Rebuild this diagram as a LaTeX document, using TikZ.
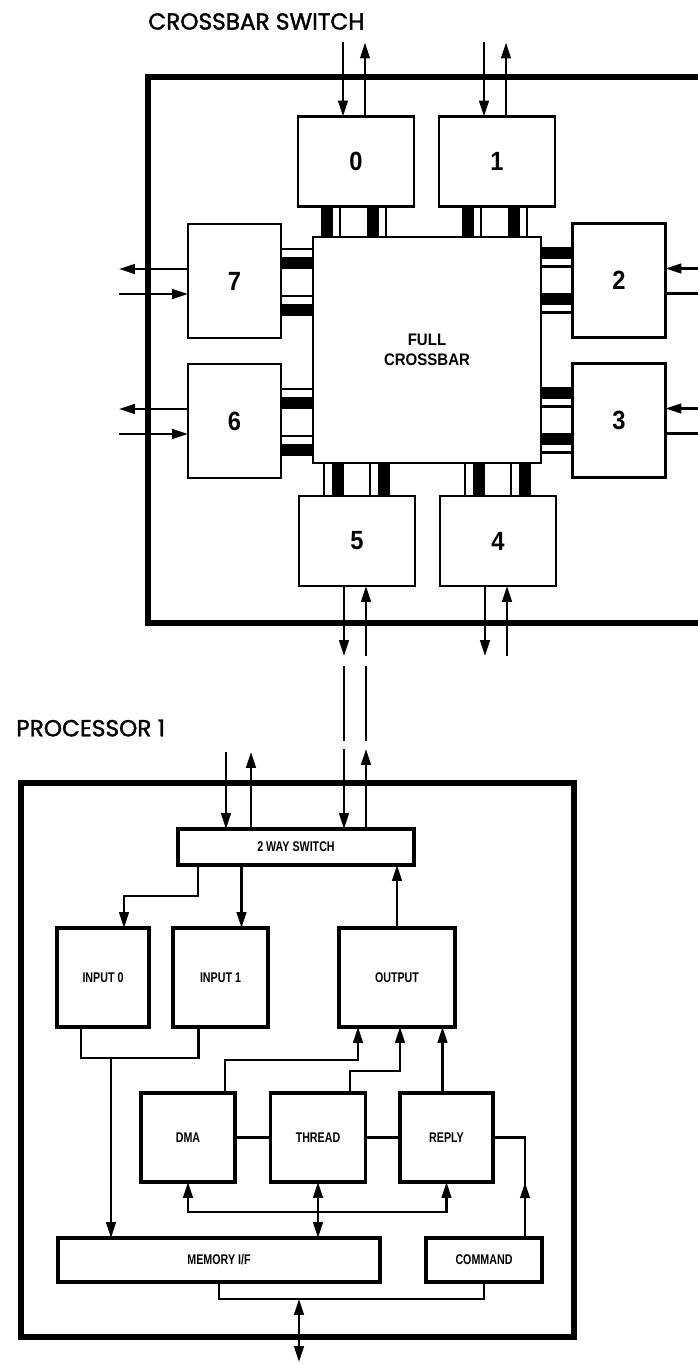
\documentclass[tikz,border=0pt]{standalone}
\usepackage{fontspec}
\usepackage{tikz}
\usetikzlibrary{arrows.meta, calc, decorations.markings}
\newfontfamily\titlefont[FakeBold=1.6]{Poppins}
\newfontfamily\condfont[FakeStretch=0.9]{Liberation Sans}
\newfontfamily\narrowfont[FakeStretch=0.76]{Liberation Sans}
\def\pxu{0.02cm}
\tikzset{
  my arrow style/.style={
    >={Triangle[length=9pt,width=5.4pt]}, % arrow tip style
    line width=1.5pt,                     % default line thickness
  }
}
\tikzset{
  frame/.style={line width=2.9pt},
  title/.style={inner sep=0pt, font=\titlefont\fontsize{13.2}{14}\selectfont},
  unit/.style={draw, fill=white, line width=1.6pt, inner sep=0pt, outer sep=0pt,
    font=\condfont\bfseries\fontsize{15}{15}\selectfont},
  topunit/.style={unit, minimum width=116*\pxu, minimum height=90*\pxu},
  sideunit/.style={unit, minimum width=93*\pxu, minimum height=114*\pxu},
  block/.style={draw, fill=white, line width=1.8pt, inner sep=0pt, outer sep=0pt,
    font=\narrowfont\bfseries\fontsize{8}{9}\selectfont},
  pinline/.style={line width=1.2pt},
}
\tikzset{
  midarrow/.style={
    postaction={
      decorate,
      decoration={
        markings,
        mark=at position 0.42 with {\arrow{Triangle[length=9pt,width=5.4pt]}}
      }
    }
  }
}

\begin{document}
\begin{tikzpicture}[my arrow style, x=\pxu, y=-\pxu]
    \useasboundingbox (0,0) rectangle (697,1364);

    % Crossbar switch
    \node[title, anchor=west] (xtitle) at (147,21.5) {CROSSBAR SWITCH};
    \draw[frame] (705,77) -| (148,623) -- (705,623);

    \node[unit, minimum width=228*\pxu, minimum height=226*\pxu, align=center,
      font=\condfont\bfseries\fontsize{9.5}{11.3}\selectfont] (xbar) at (427,350) {FULL\\CROSSBAR};
    \node[topunit] (box0) at (356,161.5) {0};
    \node[topunit] (box1) at (497,161.5) {1};
    \node[sideunit] (box2) at (619,280.5) {2};
    \node[sideunit] (box3) at (619,420.5) {3};
    \node[topunit] (box4) at (498,541) {4};
    \node[topunit] (box5) at (357,541) {5};
    \node[sideunit] (box6) at (234.5,421) {6};
    \node[sideunit] (box7) at (234.5,281) {7};

    % Pins between the ports and the crossbar
    \foreach \port in {box0,box1}
      \foreach \o in {-35,11} {
        \coordinate (p) at ($(\port.south)+(\o,0)$);
        \fill (p) rectangle ($(p |- xbar.north)+(12,0)$);
        \draw[pinline] ($(p)+(19,0)$) -- ($(p |- xbar.north)+(19,0)$);
      }
    \foreach \port in {box5,box4}
      \foreach \o in {-33,13} {
        \coordinate (p) at ($(\port.north)+(\o,0)$);
        \draw[pinline] (p) -- (p |- xbar.south);
        \fill ($(p)+(8,0)$) rectangle ($(p |- xbar.south)+(20,0)$);
      }
    \foreach \port in {box7,box6}
      \foreach \o in {-32,15} {
        \coordinate (p) at ($(\port.east)+(0,\o)$);
        \draw[pinline] (p) -- (p -| xbar.west);
        \fill ($(p)+(0,8)$) rectangle ($(p -| xbar.west)+(0,20)$);
      }
    \foreach \port in {box2,box3}
      \foreach \o in {-33,13} {
        \coordinate (p) at ($(\port.west)+(0,\o)$);
        \fill (p) rectangle ($(p -| xbar.east)+(0,12)$);
        \draw[pinline] ($(p)+(0,19)$) -- ($(p -| xbar.east)+(0,19)$);
      }

    % Ports to the outside
    \foreach \port in {box0,box1} {
      \draw[->] ($(\port.north)+(-13,-74)$) -- ++(0,74);
      \draw[->] ($(\port.north)+(9,0)$) -- ++(0,-74);
    }
    \foreach \port in {box7,box6} {
      \draw[->] ($(\port.west)+(0,-12)$) -- ++(-69,0);
      \draw[->] ($(\port.west)+(-69,13)$) -- ++(69,0);
    }
    \foreach \port in {box2,box3} {
      \draw[->] ($(\port.east)+(33,-12)$) -- ++(-33,0);
      \draw ($(\port.east)+(0,13)$) -- ++(33,0);
    }
    \draw[->] ($(box4.south)+(-13,0)$) -- ++(0,70);
    \draw[->] ($(box4.south)+(9,70)$) -- ++(0,-70);

    % Processor
    \node[title, anchor=west] (ptitle) at (15,728) {PROCESSOR 1};
    \draw[frame] (21,783) rectangle (574,1337);

    \node[block, minimum width=236*\pxu, minimum height=36*\pxu] (sw) at (296,847) {2 WAY SWITCH};
    \node[block, minimum width=92*\pxu, minimum height=99*\pxu] (in0) at (103,977.5) {INPUT 0};
    \node[block, minimum width=95*\pxu, minimum height=99*\pxu] (in1) at (220.5,977.5) {INPUT 1};
    \node[block, minimum width=116*\pxu, minimum height=99*\pxu] (out) at (397,977.5) {OUTPUT};
    \node[block, minimum width=94*\pxu, minimum height=89*\pxu] (dma) at (188,1137.5) {DMA};
    \node[block, minimum width=95*\pxu, minimum height=89*\pxu] (thread) at (318,1137.5) {THREAD};
    \node[block, minimum width=93*\pxu, minimum height=89*\pxu] (reply) at (446.5,1137.5) {REPLY};
    \node[block, minimum width=322*\pxu, minimum height=44*\pxu] (mem) at (219,1260) {MEMORY I/F};
    \node[block, minimum width=116*\pxu, minimum height=44*\pxu] (cmd) at (484,1260) {COMMAND};

    % Links from port 5 to the switch
    \coordinate (d5) at ($(box5.south)+(-13,0)$);
    \coordinate (u5) at ($(box5.south)+(9,0)$);
    \draw[->] (d5) -- ++(0,70);
    \draw ($(d5)+(0,80)$) -- ($(d5)+(0,155)$);
    \draw[->] ($(d5)+(0,163)$) -- (d5 |- sw.north);
    \draw[->] (u5 |- sw.north) -- ($(u5)+(0,163)$);
    \draw ($(u5)+(0,155)$) -- ($(u5)+(0,80)$);
    \draw[->] ($(u5)+(0,70)$) -- (u5);

    % Second link of the switch
    \draw[->] ($(sw.north)+(-70,-77)$) -- ++(0,77);
    \draw[->] ($(sw.north)+(-45,0)$) -- ++(0,-77);

    % Inside the processor
    \draw[->] ($(sw.south)+(-98,0)$) -- ++(0,31) -| ($(in0.north)+(21,0)$);
    \coordinate (a1) at ($(in1.north)+(21,0)$);
    \draw[->] (a1 |- sw.south) -- (a1);
    \draw[->] (out.north) -- (out.north |- sw.south);
    \draw ($(in0.south)+(-22,0)$) -- ++(0,31) -| ($(in1.south)+(-22,0)$);
    \coordinate (m) at ($(in0.south)+(8,31)$);
    \draw[->] (m) -- (m |- mem.north);
    \draw[->] ($(dma.north)+(37,0)$) -- ++(0,-33) -| ($(out.south)+(-39,0)$);
    \draw[->] ($(thread.north)+(32,0)$) -- ++(0,-22) -| ($(out.south)+(3,0)$);
    \coordinate (r) at ($(reply.north)+(-4,0)$);
    \draw[->] (r) -- (r |- out.south);
    \draw (dma) -- (thread);
    \draw (thread) -- (reply);
    \draw[midarrow] ($(cmd.north)+(41,0)$) |- (reply.east);
    \draw[<->] (dma.south) -- ++(0,30) -| (reply.south);
    \draw[<->] (thread.south) -- (thread.south |- mem.north);
    \draw (mem.south) -- ++(0,17) -| (cmd.south);
    \coordinate (io) at ($(mem.south)+(80,17)$);
    \coordinate (ioend) at ($(io)+(0,63)$);
    \draw[<->] (io) -- (ioend);
\end{tikzpicture}
\end{document}
